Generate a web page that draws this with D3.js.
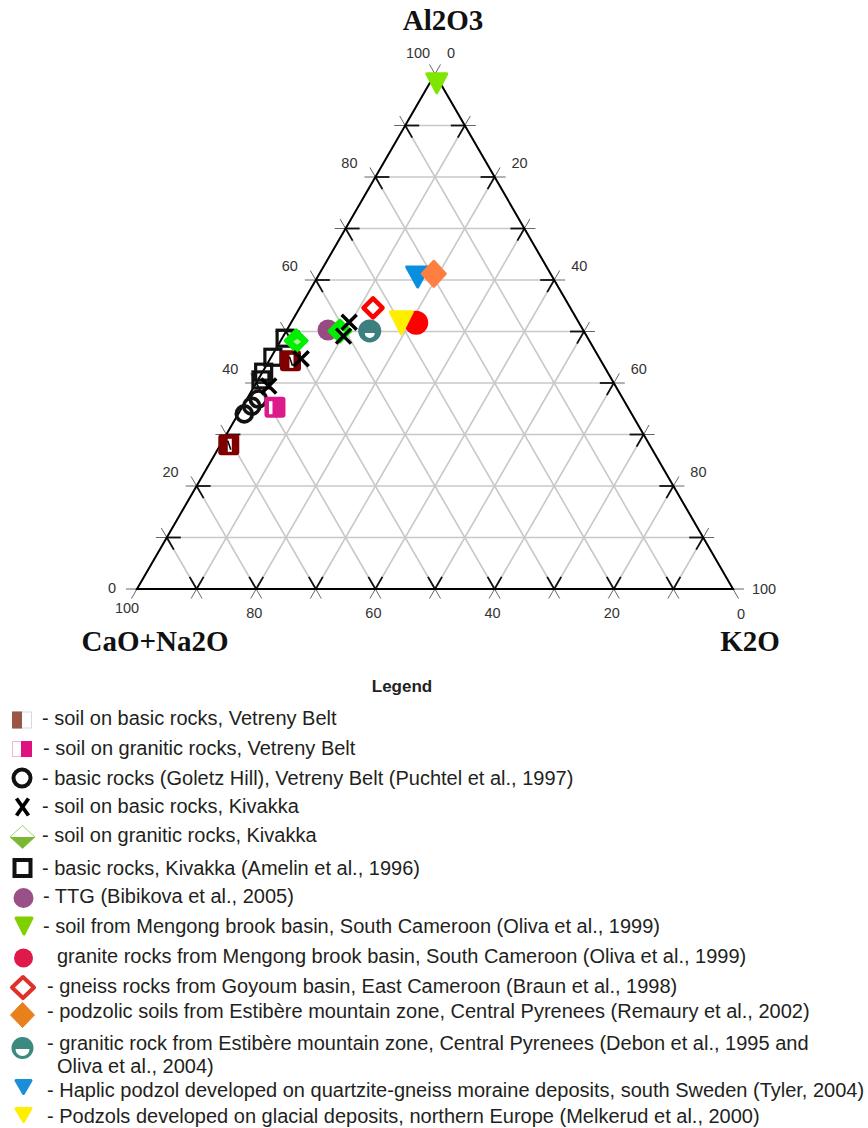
<!DOCTYPE html>
<html><head><meta charset="utf-8">
<script src="https://cdn.jsdelivr.net/npm/d3@7"></script>
<style>
html,body{margin:0;padding:0;background:#fff;}
svg{display:block;}
</style></head>
<body>
<svg id="chart" width="868" height="1128"></svg>
<script>
// ---- data: [Al2O3, CaO+Na2O, K2O] ----
const axisTitles = ["Al2O3", "CaO+Na2O", "K2O"];
const tickValues = [0, 20, 40, 60, 80, 100];
const gridValues = [0, 10, 20, 30, 40, 50, 60, 70, 80, 90, 100];

const soilBasicVetreny   = [[44.3, 52.1, 3.6], [28.0, 70.6, 1.4]];
const soilGraniticVetreny= [[35.3, 59.2, 5.5]];
const basicRocksGoletz   = [[34.0, 65.0, 1.0], [35.5, 63.0, 1.5], [36.9, 61.2, 1.9]];
const soilBasicKivakka   = [[51.8, 38.5, 9.7], [49.1, 40.8, 10.1], [44.7, 50.1, 5.2], [39.4, 58.2, 2.4]];
const soilGraniticKivakka= [[50.1, 40.9, 9.0], [48.2, 49.2, 2.6]];
const basicRocksKivakka  = [[48.7, 50.8, 0.5], [45.0, 54.7, 0.3], [42.1, 57.7, 0.2], [40.6, 58.9, 0.5]];
const ttg                = [[50.3, 42.8, 6.9]];
const soilMengong        = [[98.2, 0.6, 1.2]];
const graniteMengong     = [[51.7, 27.3, 21.0]];
const gneissGoyoum       = [[54.6, 33.1, 12.3]];
const podzolicEstibere   = [[61.2, 19.6, 19.2]];
const graniticEstibere   = [[50.1, 35.9, 14.0]];
const haplicPodzol       = [[60.6, 22.6, 16.8]];
const podzolsEurope      = [[51.7, 29.8, 18.5]];

const legendLabels = [
  "- soil on basic rocks, Vetreny Belt",
  "- soil on granitic rocks, Vetreny Belt",
  "- basic rocks (Goletz Hill), Vetreny Belt (Puchtel et al., 1997)",
  "- soil on basic rocks, Kivakka",
  "- soil on granitic rocks, Kivakka",
  "- basic rocks, Kivakka (Amelin et al., 1996)",
  "- TTG (Bibikova et al., 2005)",
  "- soil from Mengong brook basin, South Cameroon (Oliva et al., 1999)",
  "granite rocks from Mengong brook basin, South Cameroon (Oliva et al., 1999)",
  "- gneiss rocks from Goyoum basin, East Cameroon (Braun et al., 1998)",
  "- podzolic soils from Estibère mountain zone, Central Pyrenees (Remaury et al., 2002)",
  "- granitic rock from Estibère mountain zone, Central Pyrenees (Debon et al., 1995 and|Oliva et al., 2004)",
  "- Haplic podzol developed on quartzite-gneiss moraine deposits, south Sweden (Tyler, 2004)",
  "- Podzols developed on glacial deposits, northern Europe (Melkerud et al., 2000)"
];

// ---- geometry ----
const svg = d3.select("#chart");
const yScale = d3.scaleLinear().domain([0, 100]).range([589, 74]);   // Al2O3 -> y
const xScale = d3.scaleLinear().domain([0, 100]).range([137, 733]);  // K2O + Al2O3/2 -> x
function proj(a, c, k) { const s = a + c + k; a = a / s * 100; k = k / s * 100; return [xScale(k + a / 2), yScale(a)]; }

const gGrid = svg.append("g");
const families = [
  v => [proj(v, 100 - v, 0), proj(v, 0, 100 - v)],      // Al2O3 const (horizontal)
  v => [proj(0, 100 - v, v), proj(100 - v, 0, v)],      // K2O const
  v => [proj(0, v, 100 - v), proj(100 - v, v, 0)]       // CaO const
];
const inner = gridValues.filter(v => v > 0 && v < 100);
families.forEach(f => {
  inner.forEach(v => {
    const [p, q] = f(v);
    gGrid.append("line").attr("x1", p[0]).attr("y1", p[1]).attr("x2", q[0]).attr("y2", q[1])
      .attr("stroke", "#c8c8c8").attr("stroke-width", 1.6);
  });
});
const gTicks = svg.append("g");
families.forEach(f => {
  gridValues.forEach(v => {
    const [p, q] = f(v);
    const dx = q[0] - p[0], dy = q[1] - p[1], len = Math.hypot(dx, dy);
    if (len < 1) return;
    const ux = dx / len, uy = dy / len;
    const Lin = 14, Lout = 11;
    [[p, 1], [q, -1]].forEach(([pt, s]) => {
      if (v > 0 && v < 100) {
        gTicks.append("line").attr("x1", pt[0]).attr("y1", pt[1])
          .attr("x2", pt[0] + s * ux * Lin).attr("y2", pt[1] + s * uy * Lin)
          .attr("stroke", "#111").attr("stroke-width", 1.8);
      }
      gTicks.append("line").attr("x1", pt[0]).attr("y1", pt[1])
        .attr("x2", pt[0] - s * ux * Lout).attr("y2", pt[1] - s * uy * Lout)
        .attr("stroke", "#666").attr("stroke-width", 1);
    });
  });
});
const A = proj(100, 0, 0), C = proj(0, 100, 0), K = proj(0, 0, 100);
svg.append("path").attr("d", `M${A[0]},${A[1]}L${C[0]},${C[1]}L${K[0]},${K[1]}Z`)
  .attr("fill", "none").attr("stroke", "#000").attr("stroke-width", 2).attr("stroke-linejoin", "miter");

const gLab = svg.append("g").attr("font-family", "Liberation Sans, Arial, sans-serif")
  .attr("font-size", 14.5).attr("fill", "#333").attr("text-anchor", "middle");
function lab(pt, dx, dy, t) {
  gLab.append("text").attr("x", pt[0] + dx).attr("y", pt[1] + dy).attr("dy", "0.35em").text(t);
}
tickValues.forEach(v => {
  const pl = proj(v, 100 - v, 0);
  if (v === 100) lab(pl, -17, -21, v); else if (v === 0) lab(pl, -25, -1, v); else lab(pl, -26, -14, v);
  const pr = proj(100 - v, 0, v);
  if (v === 0) lab(pr, 16, -21, v); else if (v === 100) lab(pr, 31, 0, v); else lab(pr, 25, -14, v);
  const pb = proj(0, v, 100 - v);
  if (v === 100) lab(pb, -10, 19, v); else if (v === 0) lab(pb, 8, 25, v); else lab(pb, -2, 24, v);
});

const gT = svg.append("g").attr("font-family", "Liberation Serif, Times New Roman, serif")
  .attr("font-weight", "bold").attr("font-size", 29).attr("fill", "#111").attr("text-anchor", "middle");
gT.append("text").attr("x", A[0] + 8).attr("y", A[1] - 44).text(axisTitles[0]);
gT.append("text").attr("x", C[0] + 18).attr("y", C[1] + 62).text(axisTitles[1]);
gT.append("text").attr("x", K[0] + 17).attr("y", K[1] + 62).text(axisTitles[2]);

function sq(g, x, y, s, fill, stroke, sw, r) {
  return g.append("rect").attr("x", x - s / 2).attr("y", y - s / 2).attr("width", s).attr("height", s)
    .attr("rx", r || 0).attr("fill", fill).attr("stroke", stroke || "none").attr("stroke-width", sw || 0);
}
function diamond(g, x, y, rx, ry, fill, stroke, sw) {
  return g.append("path").attr("d", `M${x},${y - ry}L${x + rx},${y}L${x},${y + ry}L${x - rx},${y}Z`)
    .attr("fill", fill).attr("stroke", stroke || "none").attr("stroke-width", sw || 0).attr("stroke-linejoin", "round");
}
function triDown(g, x, y, w, h, fill) {
  return g.append("path").attr("d", `M${x - w / 2},${y - h / 2}L${x + w / 2},${y - h / 2}L${x},${y + h / 2}Z`)
    .attr("fill", fill).attr("stroke", fill).attr("stroke-width", 3).attr("stroke-linejoin", "round");
}
function circ(g, x, y, r, fill, stroke, sw) {
  return g.append("circle").attr("cx", x).attr("cy", y).attr("r", r).attr("fill", fill)
    .attr("stroke", stroke || "none").attr("stroke-width", sw || 0);
}
function cross(g, x, y, sx, sy, sw) {
  g.append("path").attr("d", `M${x - sx},${y - sy}L${x + sx},${y + sy}M${x - sx},${y + sy}L${x + sx},${y - sy}`)
    .attr("stroke", "#000").attr("stroke-width", sw).attr("fill", "none");
}

const gPts = svg.append("g");
const P = arr => arr.map(d => proj(d[0], d[1], d[2]));

P(basicRocksKivakka).forEach(([x, y]) => sq(gPts, x, y, 16, "none", "#111", 3.2));
P(basicRocksGoletz).forEach(([x, y]) => circ(gPts, x, y, 8, "none", "#111", 3.6));
P(soilBasicVetreny).forEach(([x, y]) => {
  sq(gPts, x, y, 21, "#800000", null, 0, 3);
  gPts.append("rect").attr("x", x - 1).attr("y", y - 6).attr("width", 4).attr("height", 13).attr("fill", "#fff");
  gPts.append("line").attr("x1", x - 1).attr("y1", y - 4).attr("x2", x + 2).attr("y2", y + 5).attr("stroke", "#000").attr("stroke-width", 1.5);
});
P(soilGraniticVetreny).forEach(([x, y]) => {
  sq(gPts, x, y, 21, "#dc1a8c", null, 0, 3);
  gPts.append("rect").attr("x", x - 6).attr("y", y - 6).attr("width", 3.5).attr("height", 13).attr("fill", "#fff");
});
P(ttg).forEach(([x, y]) => circ(gPts, x, y, 10.5, "#9a4a82"));
P(soilGraniticKivakka).forEach(([x, y]) => {
  diamond(gPts, x, y, 11, 11, "#00ee00", "#00ee00", 3);
  diamond(gPts, x + 1, y + 1, 4, 3, "#a8f090");
});
P(soilBasicKivakka).forEach(([x, y]) => cross(gPts, x, y, 7.5, 7.5, 3.5));
P(graniticEstibere).forEach(([x, y]) => {
  circ(gPts, x, y, 11.5, "#3d7f7f");
  gPts.append("path").attr("d", `M${x - 5},${y + 2}A5,5 0 0 0 ${x + 5},${y + 2}Z`).attr("fill", "#fff");
});
P(gneissGoyoum).forEach(([x, y]) => diamond(gPts, x, y, 9.5, 9.5, "#fff", "#ff0000", 4.5));
P(haplicPodzol).forEach(([x, y]) => triDown(gPts, x, y, 22, 20, "#0a8fe0"));
P(podzolicEstibere).forEach(([x, y]) => diamond(gPts, x, y, 11.5, 12.5, "#ff7f40", "#ff7f40", 3));
P(graniteMengong).forEach(([x, y]) => circ(gPts, x, y, 12, "#ff0000"));
P(podzolsEurope).forEach(([x, y]) => triDown(gPts, x, y, 22, 22, "#ffee00"));
P(soilMengong).forEach(([x, y]) => triDown(gPts, x, y, 20, 19, "#7fe600"));

// ---- legend ----
svg.append("text").attr("x", 402).attr("y", 692).attr("text-anchor", "middle")
  .attr("font-family", "Liberation Sans, Arial, sans-serif").attr("font-weight", "bold")
  .attr("font-size", 17).attr("fill", "#222").text("Legend");

const legendY = [718, 748, 778, 806, 835, 868, 896, 926, 956, 986, 1011, 1043, 1090, 1116];
const legendX = [42, 43, 42, 42, 42, 42, 43, 43, 57, 47, 47, 47, 47, 47];
const gL = svg.append("g").attr("font-family", "Liberation Sans, Arial, sans-serif")
  .attr("font-size", 20).attr("fill", "#231f20");
legendLabels.forEach((t, i) => {
  const parts = t.split("|");
  parts.forEach((p, j) => {
    gL.append("text").attr("x", j === 0 ? legendX[i] : 57).attr("y", legendY[i] + j * 23)
      .attr("dy", "0.35em").text(p);
  });
});

const gM = svg.append("g");
(function () { const x = 22, y = 720;
  gM.append("rect").attr("x", x - 9.5).attr("y", y - 8).attr("width", 19).attr("height", 16).attr("fill", "#fff").attr("stroke", "#d8d8d8").attr("stroke-width", 1);
  gM.append("rect").attr("x", x - 10).attr("y", y - 8.5).attr("width", 10).attr("height", 17).attr("fill", "#9a5546"); })();
(function () { const x = 22, y = 749;
  gM.append("rect").attr("x", x - 9.5).attr("y", y - 7.5).attr("width", 19).attr("height", 15).attr("fill", "#fff").attr("stroke", "#f3b5d5").attr("stroke-width", 1);
  gM.append("rect").attr("x", x - 1).attr("y", y - 8).attr("width", 11).attr("height", 16).attr("fill", "#e0117f"); })();
circ(gM, 22, 778, 8.5, "none", "#111", 4);
cross(gM, 22.5, 807, 6, 8.5, 3.8);
(function () { const x = 22.5, y = 837;
  diamond(gM, x, y, 12.5, 11.5, "#fff", "#9fd36a", 1);
  gM.append("path").attr("d", `M${x - 12.5},${y}L${x + 12.5},${y}L${x},${y + 11.5}Z`).attr("fill", "#7ab833"); })();
sq(gM, 22.5, 868, 16, "none", "#111", 4);
circ(gM, 23.5, 898, 10, "#9a4f86");
triDown(gM, 24, 926, 16, 16, "#80cf00");
circ(gM, 23.5, 958, 9.5, "#e0194b");
diamond(gM, 23, 987.5, 11, 10.5, "#fff", "#e0302a", 4);
diamond(gM, 22.5, 1015, 12, 12.5, "#e8801c", "#e8801c", 1);
(function () { const x = 22.5, y = 1048;
  circ(gM, x, y, 11, "#3a8a80");
  gM.append("path").attr("d", `M${x - 7},${y + 1}A7,7 0 0 0 ${x + 7},${y + 1}Z`).attr("fill", "#fff"); })();
triDown(gM, 23.5, 1087, 15, 13, "#1a8fd8");
triDown(gM, 23.5, 1115, 15, 13, "#ffee00");
</script>
</body></html>
